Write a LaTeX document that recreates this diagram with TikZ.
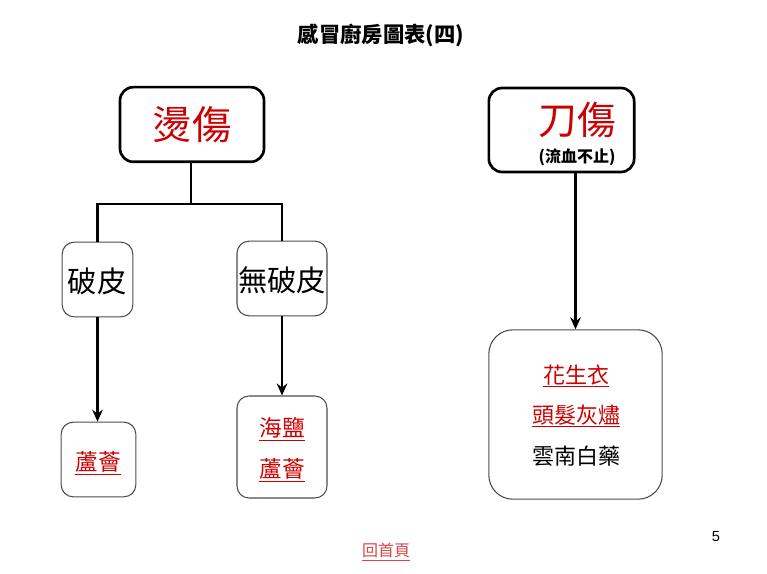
\documentclass[tikz,border=0pt]{standalone}
\usepackage{fontspec}
\setmainfont{Noto Sans CJK TC}
\setsansfont{Liberation Sans}
\usetikzlibrary{arrows.meta}
\definecolor{myred}{HTML}{CC0000}
\definecolor{linkred}{HTML}{D04848}
\begin{document}
\begin{tikzpicture}[x=0.75pt,y=-0.75pt,
  bigbox/.style={draw=black,line width=2pt,rounded corners=10pt,inner sep=0pt},
  smallbox/.style={draw=black!70,line width=0.8pt,rounded corners=9pt,inner sep=0pt},
  conn/.style={line width=1.6pt},
  arr/.style={conn,-{Stealth[length=9pt,width=8pt,inset=3pt]}},
  redtxt/.style={text=myred}]
\useasboundingbox (0,0) rectangle (767,574);
% title
\node (title) at (381,35) {\fontsize{16pt}{19pt}\selectfont\bfseries 感冒廚房圖表(四)};
% left top box
\node[bigbox,minimum width=108pt,minimum height=56pt] (burn) at (192,124.5) {};
\node[redtxt] (burnt) at (192,125) {\fontsize{29.5pt}{32pt}\selectfont 燙傷};
% right top box
\node[bigbox,minimum width=109pt,minimum height=63pt] (cut) at (561.5,130) {};
\node[redtxt] (cutt) at (577,120) {\fontsize{29pt}{32pt}\selectfont 刀傷};
\node (cutsub) at (577,157) {\fontsize{12pt}{14pt}\selectfont\bfseries (流血不止)};
% second row
\node[smallbox,minimum width=53pt,minimum height=56pt] (broken) at (97.5,279.5) {};
\node (brokent) at (97,281) {\fontsize{22pt}{26pt}\selectfont 破皮};
\node[smallbox,minimum width=67.5pt,minimum height=56pt] (notbroken) at (282,278.5) {};
\node (notbrokent) at (282,280) {\fontsize{22pt}{26pt}\selectfont 無破皮};
% third row
\node[smallbox,minimum width=56pt,minimum height=56pt] (aloe) at (98.5,459.5) {};
\node[redtxt] (aloet) at (98,463) {\fontsize{17pt}{20pt}\selectfont\underline{蘆薈}};
\node[smallbox,minimum width=67.5pt,minimum height=76.5pt] (salt) at (282,447) {};
\node[redtxt] (saltt) at (282,429) {\fontsize{17pt}{20pt}\selectfont\underline{海鹽}};
\node[redtxt] (aloe2t) at (282,470) {\fontsize{17pt}{20pt}\selectfont\underline{蘆薈}};
\node[smallbox,rounded corners=18pt,minimum width=130pt,minimum height=127pt] (remedy) at (575.5,414.5) {};
\node[redtxt] (r1) at (576,376) {\fontsize{16.5pt}{20pt}\selectfont\underline{花生衣}};
\node[redtxt] (r2) at (576,416) {\fontsize{16.5pt}{20pt}\selectfont\underline{頭髮灰燼}};
\node (r3) at (576,456) {\fontsize{16.5pt}{20pt}\selectfont 雲南白藥};
% connectors
\coordinate (j) at (191,204);
\draw[conn] (burn.south -| j) -- (j);
\draw[conn] (broken.north) |- (j) -| (notbroken.north);
\draw[arr] (broken.south) -- (aloe.north -| broken.south);
\draw[arr] (notbroken.south) -- (salt.north);
\draw[arr] (cut.south -| remedy.north) -- (remedy.north);
% footer
\node (page) at (716,537) {\fontsize{11pt}{13pt}\selectfont\sffamily 5};
\node[text=linkred] (home) at (386,552) {\fontsize{12pt}{14pt}\selectfont\underline{回首頁}};
\end{tikzpicture}
\end{document}
